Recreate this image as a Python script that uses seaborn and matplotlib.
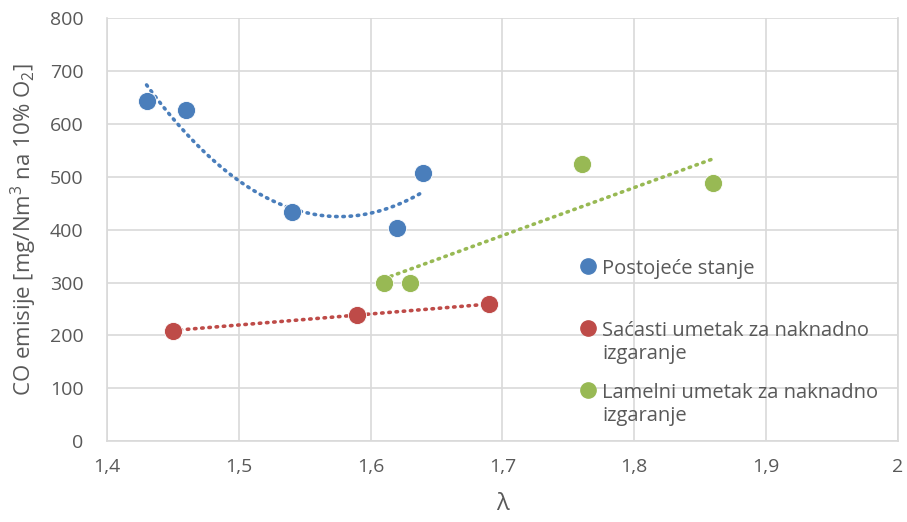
import matplotlib
matplotlib.use("Agg")
from matplotlib import pyplot as plt
from matplotlib.legend_handler import HandlerLine2D
import numpy as np
import seaborn as sb
import pandas as pd

# data
blue_x = [1.43, 1.46, 1.54, 1.62, 1.64]
blue_y = [643, 627, 433, 404, 508]
red_x = [1.45, 1.59, 1.69]
red_y = [209, 239, 259]
green_x = [1.61, 1.63, 1.76, 1.86]
green_y = [299, 299, 524, 488]

names = ["Postojeće stanje", "Saćasti umetak za naknadno\nizgaranje",
         "Lamelni umetak za naknadno\nizgaranje"]
colors = ["#4a7ebb", "#be4b48", "#98b954"]
x_ticks = [1.4, 1.5, 1.6, 1.7, 1.8, 1.9, 2.0]
y_ticks = [0, 100, 200, 300, 400, 500, 600, 700, 800]

sb.set_theme(style="whitegrid")
plt.rcParams['font.family'] = ['Open Sans', 'DejaVu Sans']
plt.rcParams['mathtext.default'] = 'regular'
grey = "#595959"


class TopMarker(HandlerLine2D):
    # put the legend marker on the first text line, like excel
    def create_artists(self, legend, orig_handle, xdescent, ydescent,
                       width, height, fontsize, trans):
        arts = super().create_artists(legend, orig_handle, xdescent, ydescent,
                                      width, height, fontsize, trans)
        for a in arts:
            a.set_ydata(np.asarray(a.get_ydata()) + 0.72 * fontsize)
        return arts


fig = plt.figure(figsize=(9.07, 5.22), dpi=100)
ax = fig.add_axes([0.118, 0.155, 0.872, 0.81])

series = [(blue_x, blue_y, 2), (red_x, red_y, 1), (green_x, green_y, 1)]
handles = []
for (xs, ys, deg), name, c in zip(series, names, colors):
    # excel-like trendline over data range
    coef = np.polyfit(xs, ys, deg)
    tx = np.linspace(min(xs), max(xs), 60)
    trend = pd.DataFrame({"x": tx, "y": np.polyval(coef, tx)})
    sb.lineplot(data=trend, x="x", y="y", ax=ax, color=c, lw=2.6,
                linestyle=(0, (0.4, 1.6)), dash_capstyle="round", zorder=3)
    pts = pd.DataFrame({"x": xs, "y": ys})
    sb.scatterplot(data=pts, x="x", y="y", ax=ax, color=c, s=170,
                   edgecolor="white", linewidth=0.6, zorder=4)
    handles.append(plt.Line2D([], [], marker="o", color=c, ls="", ms=11))

ax.set_xlim(1.4, 2.0)
ax.set_ylim(0, 800)
ax.set_xticks(x_ticks)
ax.set_xticklabels([f"{t:.1f}".replace(".", ",") if t != 2.0 else "2" for t in x_ticks])
ax.set_yticks(y_ticks)
ax.tick_params(colors=grey, labelsize=14, length=0)
ax.tick_params(axis="x", pad=12)
ax.tick_params(axis="y", pad=17)
ax.grid(True, color="#d9d9d9", lw=1.2)
for s in ["top", "right"]:
    ax.spines[s].set_visible(False)
for s in ["left", "bottom"]:
    ax.spines[s].set_color("#d9d9d9")
    ax.spines[s].set_linewidth(1.2)
ax.spines["right"].set_visible(True)
ax.spines["right"].set_color("#d9d9d9")

ax.set_xlabel("λ", fontsize=17, color=grey, labelpad=12)
ax.set_ylabel("CO emisije [mg/Nm$^3$ na 10% O$_2$]", fontsize=16, color=grey, labelpad=8)

labels = [names[0] + "\n ", names[1], names[2]]
leg = ax.legend(handles, labels, loc="upper left", bbox_to_anchor=(0.585, 0.455),
                frameon=False, fontsize=14.5, labelcolor=grey, handlelength=0.8,
                handletextpad=0.3, labelspacing=0.95, borderpad=0,
                handler_map={plt.Line2D: TopMarker()})

fig.savefig("out.png", dpi=100)
